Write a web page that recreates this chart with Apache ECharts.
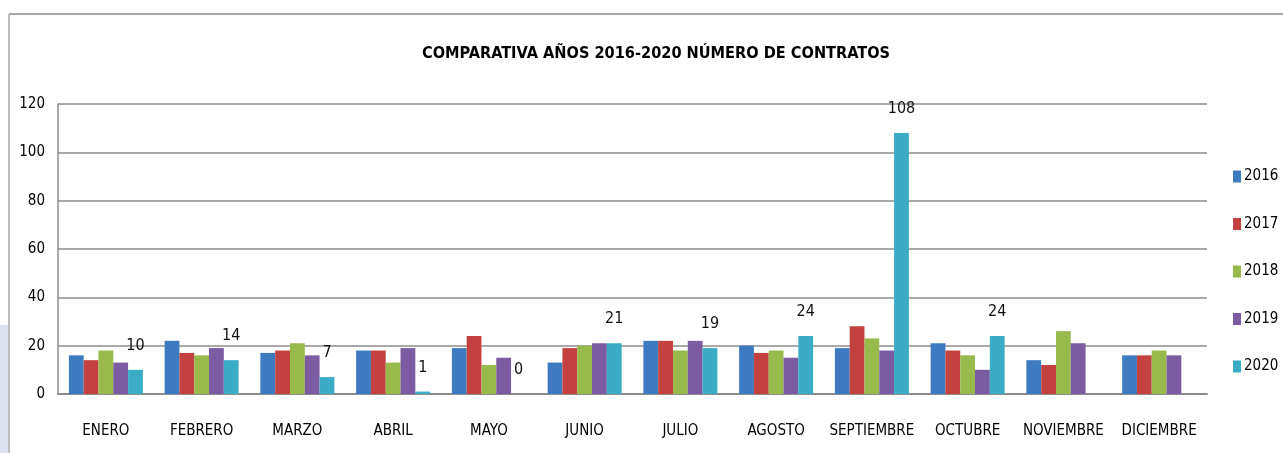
<!DOCTYPE html>
<html>
<head>
<meta charset="utf-8">
<script src="https://cdn.jsdelivr.net/npm/echarts@6/dist/echarts.min.js"></script>
<style>
html,body{margin:0;padding:0;background:#fff;}
#chart{width:1283px;height:453px;}
</style>
</head>
<body>
<div id="chart"></div>
<script>
const categories = ['ENERO','FEBRERO','MARZO','ABRIL','MAYO','JUNIO','JULIO','AGOSTO','SEPTIEMBRE','OCTUBRE','NOVIEMBRE','DICIEMBRE'];
const years = ['2016','2017','2018','2019','2020'];
const v2016 = [16,22,17,18,19,13,22,20,19,21,14,16];
const v2017 = [14,17,18,18,24,19,22,17,28,18,12,16];
const v2018 = [18,16,21,13,12,20,18,18,23,16,26,18];
const v2019 = [13,19,16,19,15,21,22,15,18,10,21,16];
const v2020 = [10,14,7,1,0,21,19,24,108,24,null,null];
const yTicks = [0,20,40,60,80,100,120];

const colors = ['#3E7AC0','#C3423F','#98B94B','#7B5BA1','#3AACC6'];
const FONT = '"DejaVu Sans Condensed", "Liberation Sans Narrow", sans-serif';
const allValues = [v2016,v2017,v2018,v2019,v2020];

const chart = echarts.init(document.getElementById('chart'));
const series = years.map((y, i) => ({
  name: y,
  type: 'bar',
  data: allValues[i],
  barWidth: 14.8,
  barGap: '0%',
  itemStyle: { color: colors[i] },
  label: i === 4 ? {
    show: true, position: 'top', distance: 16,
    fontFamily: FONT, fontSize: 16, color: '#111',
    formatter: p => (p.value === null || p.value === undefined) ? '' : p.value
  } : { show: false }
}));

chart.setOption({
  animation: false,
  backgroundColor: '#fff',
  color: colors,
  title: {
    text: 'COMPARATIVA AÑOS 2016-2020 NÚMERO DE CONTRATOS',
    left: 651, top: 41, textAlign: 'center',
    textStyle: { fontFamily: FONT, fontWeight: 'bold', fontSize: 16.2, color: '#000' }
  },
  graphic: [
    { type: 'rect', shape: { x: 0, y: 325, width: 8, height: 128 }, style: { fill: '#DCE2F0' }, silent: true },
    { type: 'line', shape: { x1: 9, y1: 14, x2: 1283, y2: 14 }, style: { stroke: '#A6A6A6', lineWidth: 2 }, silent: true },
    { type: 'line', shape: { x1: 9, y1: 14, x2: 9, y2: 453 }, style: { stroke: '#A6A6A6', lineWidth: 1.5 }, silent: true }
  ],
  legend: {
    orient: 'vertical',
    left: 1228, top: 164,
    itemWidth: 8, itemHeight: 12, itemGap: 32.5,
    icon: 'rect',
    data: years,
    textStyle: { fontFamily: FONT, fontSize: 15, color: '#000', padding: [0,0,0,-2] }
  },
  grid: { left: 58, right: 76, top: 104, bottom: 59 },
  xAxis: {
    type: 'category',
    data: categories,
    axisLine: { lineStyle: { color: '#8C8C8C', width: 2 } },
    axisTick: { show: false },
    axisLabel: { fontFamily: FONT, fontSize: 15, color: '#000', margin: 30, interval: 0 }
  },
  yAxis: {
    type: 'value',
    min: yTicks[0], max: yTicks[yTicks.length - 1], interval: 20,
    axisLine: { show: true, lineStyle: { color: '#8C8C8C', width: 1.5 } },
    axisTick: { show: false },
    splitLine: { lineStyle: { color: '#8C8C8C', width: 1.5 } },
    axisLabel: { fontFamily: FONT, fontSize: 15, color: '#000', margin: 13 }
  },
  series: series
});
</script>
</body>
</html>
